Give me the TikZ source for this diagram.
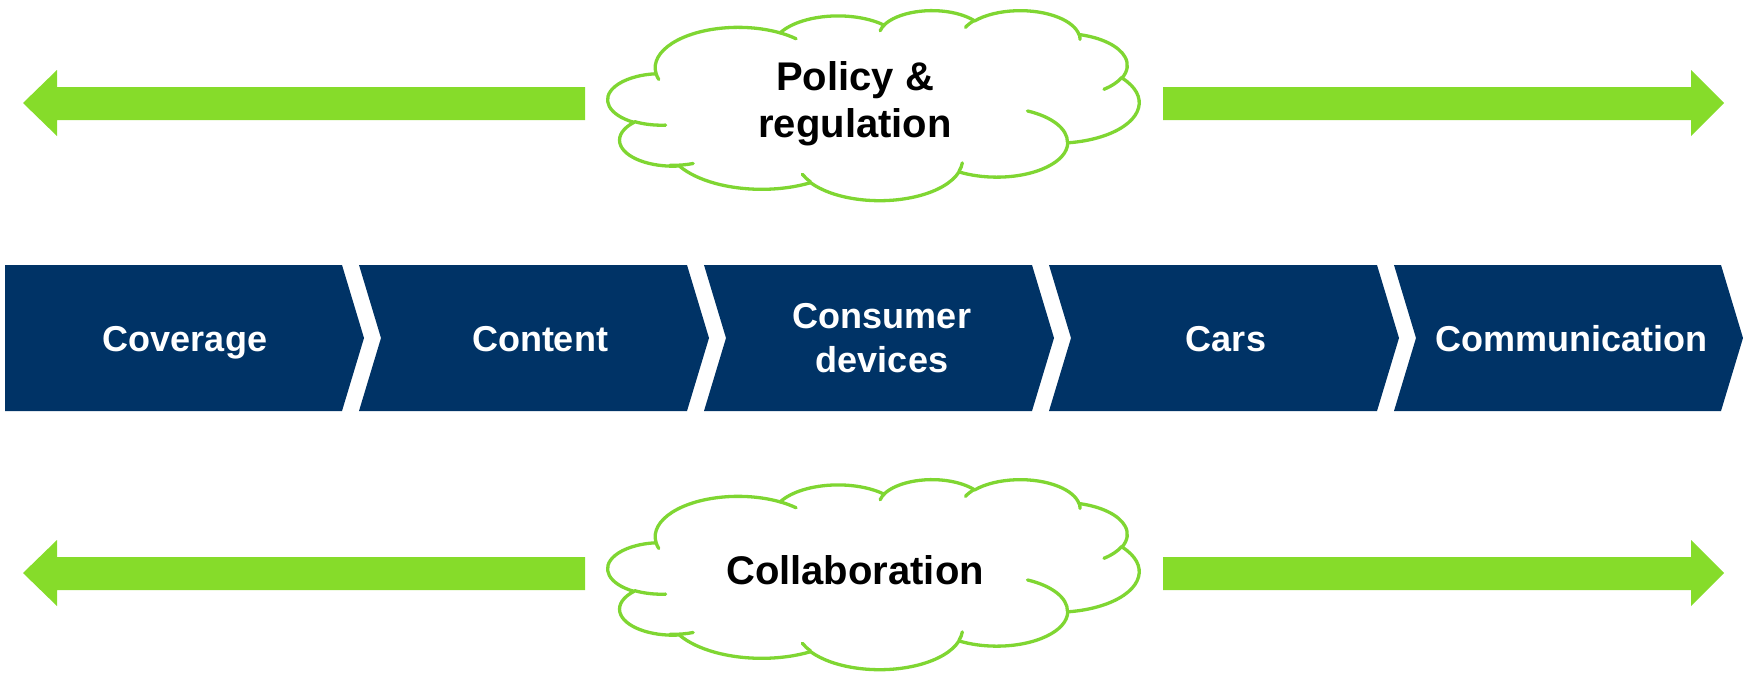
\documentclass[tikz,border=0pt]{standalone}
\usepackage{fontspec}
\setmainfont{Liberation Sans}
\definecolor{navy}{HTML}{003366}
\definecolor{lgreen}{HTML}{86DC2A}
\definecolor{cgreen}{HTML}{7FD632}
% arc of an ellipse given in OOXML style (visual angles), turned into TikZ parametric angles
\newcommand\ooprep[5]{%
  \pgfmathsetmacro\ooT{atan2((#2)*sin(#4),(#3)*cos(#4))}%
  \pgfmathsetmacro\ooE{atan2((#2)*sin((#4)+(#5)),(#3)*cos((#4)+(#5)))}%
  \pgfmathsetmacro\ooD{(\ooE)-(\ooT)}%
  \pgfmathsetmacro\ooD{((#5)>0)*(((\ooD)<0)*360+(\ooD)) + ((#5)<0)*(((\ooD)>0)*(-360)+(\ooD))}%
  \pgfmathsetmacro\ooEnd{(\ooT)+(\ooD)}%
  \expandafter\xdef\csname oo#1\endcsname{arc[x radius=#2, y radius=#3, start angle=\ooT, end angle=\ooEnd]}%
}
\begin{document}
\begin{tikzpicture}[x=1pt,y=-1pt,
  chev/.style={fill=navy},
  garrow/.style={fill=lgreen},
  cloudline/.style={draw=cgreen, line width=3.3pt, line cap=round, line join=round},
  chevtext/.style={text=white, font=\fontsize{36}{43.7}\selectfont\bfseries, inner sep=0pt},
  cloudtext/.style={text=black, font=\fontsize{40}{46.6}\selectfont\bfseries, inner sep=0pt}]
\useasboundingbox (0,0) rectangle (1743,678);
% outer cloud arcs
\ooprep{arcA}{67.53}{91.90}{-190.48748}{123.78053}
\ooprep{arcB}{53.33}{72.67}{-144.10238}{89.94523}
\ooprep{arcC}{43.65}{59.45}{-145.80792}{99.72302}
\ooprep{arcD}{48.57}{65.95}{-130.98607}{117.24173}
\ooprep{arcE}{53.33}{72.73}{-78.70888}{109.02692}
\ooprep{arcF}{67.75}{92.20}{-46.26725}{130.26900}
\ooprep{arcG}{57.85}{78.67}{0.62502}{114.03333}
\ooprep{arcH}{67.52}{92.15}{22.45160}{115.17255}
\ooprep{arcI}{77.20}{105.43}{66.24263}{75.71102}
\ooprep{arcJ}{43.60}{59.18}{-274.94208}{146.73557}
\ooprep{arcK}{43.45}{59.45}{-246.82850}{152.51885}
% inner cloud arcs
\ooprep{inA}{43.45}{59.45}{86.74200}{26.42950}
\ooprep{inB}{43.60}{59.18}{73.61047}{19.08322}
\ooprep{inC}{67.52}{92.15}{137.62415}{14.08110}
\ooprep{inD}{67.52}{92.15}{6.45327}{15.99835}
\ooprep{inE}{57.85}{78.67}{-70.29235}{70.91737}
\ooprep{inF}{53.33}{72.73}{30.31803}{27.75150}
\ooprep{inG}{48.57}{65.95}{-13.74433}{14.85890}
\ooprep{inH}{48.57}{65.95}{-149.18145}{18.19537}
\ooprep{inI}{43.65}{59.45}{-163.49427}{17.68635}
\ooprep{inJ}{67.53}{91.90}{-66.70695}{12.31935}
\ooprep{inK}{67.53}{91.90}{157.65435}{11.85817}
\newcommand\drawcloud{%
  \filldraw[cloudline, fill=white] (39.00,143.70) \ooarcA \ooarcB \ooarcC \ooarcD \ooarcE \ooarcF
    \ooarcG \ooarcH \ooarcI \ooarcJ \ooarcK -- cycle;
  \draw[cloudline] (46.93,261.77) \ooinA (69.28,348.99) \ooinB (164.78,390.90) \ooinC
    (288.27,347.51) \ooinD (341.29,229.54) \ooinE (417.98,153.54) \ooinF
    (383.24,54.26) \ooinG (290.78,39.52) \ooinH (221.41,47.20) \ooinI
    (140.00,51.92) \ooinJ (41.27,157.89) \ooinK;
}
% green arrows, top and bottom
\foreach \dy in {0,470} {
  \begin{scope}[yshift=-\dy pt]
    \fill[garrow] (23,103) -- (57,70) -- (57,87) -- (585,87) -- (585,120) -- (57,120) -- (57,136) -- cycle;
    \fill[garrow] (1163,87) -- (1691,87) -- (1691,70) -- (1724,103) -- (1691,136) -- (1691,120) -- (1163,120) -- cycle;
  \end{scope}
}
% clouds
\begin{scope}[xshift=608pt, yshift=-10pt, x=1.22917pt, y=-0.43981pt]
  \drawcloud
\end{scope}
\begin{scope}[xshift=608pt, yshift=-479pt, x=1.22917pt, y=-0.43981pt]
  \drawcloud
\end{scope}
\node[cloudtext, align=center] (policy) at (855,103.6) {Policy \&\\regulation};
\node[cloudtext, anchor=base] (collab) at (855,584) {Collaboration};
% chevrons
\fill[chev] (5,265) -- (342,265) -- (364,338) -- (342,411) -- (5,411) -- cycle;
\foreach \xl/\xr in {359/687, 704/1032, 1049/1377, 1394/1721} {
  \fill[chev] (\xl,265) -- (\xr,265) -- (\xr+22,338) -- (\xr,411) -- (\xl,411) -- (\xl+22,338) -- cycle;
}
\node[chevtext, anchor=base] (coverage) at (185,351) {Coverage};
\node[chevtext, anchor=base] (content) at (540,351) {Content};
\node[chevtext, align=center] (consumer) at (882,338) {Consumer\\devices};
\node[chevtext, anchor=base] (cars) at (1226,351) {Cars};
\node[chevtext, anchor=base] (communication) at (1571,351) {Communication};
\end{tikzpicture}
\end{document}
